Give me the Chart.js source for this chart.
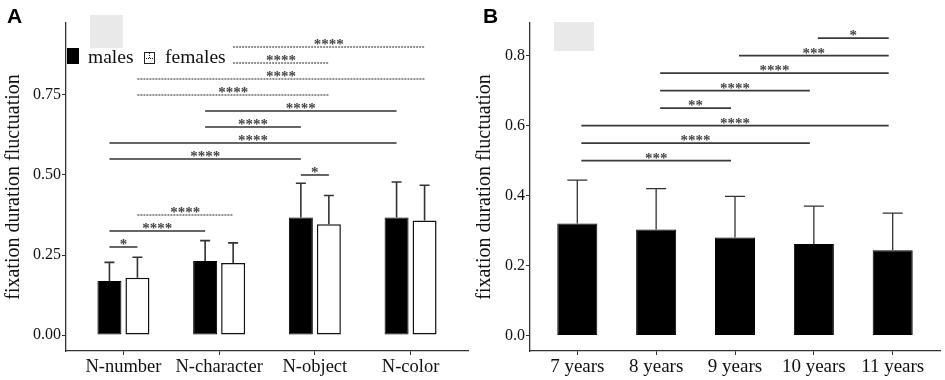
<!DOCTYPE html>
<html>
<head>
<meta charset="utf-8">
<script src="https://cdn.jsdelivr.net/npm/chart.js@4.4.0/dist/chart.umd.min.js"></script>
<style>
    html, body { margin: 0; padding: 0; background: #fff; }
    #wrap { position: relative; width: 945px; height: 380px; }
    #wrapA { position: absolute; left: 0; top: 0; width: 470px; height: 380px; }
    #wrapB { position: absolute; left: 470px; top: 0; width: 475px; height: 380px; }
</style>
</head>
<body>
<div id="wrap">
    <div id="wrapA"><canvas id="chartA" width="470" height="380"></canvas></div>
    <div id="wrapB"><canvas id="chartB" width="475" height="380"></canvas></div>
</div>
<script>
// panel A: task x gender
const tasks = ['N-number', 'N-character', 'N-object', 'N-color'];
const malesMean = [0.169, 0.231, 0.367, 0.367];
const malesSD = [0.058, 0.064, 0.107, 0.111];
const femalesMean = [0.179, 0.225, 0.346, 0.358];
const femalesSD = [0.064, 0.063, 0.090, 0.110];
const yTicksA = [0, 0.25, 0.5, 0.75];

// comparisons in A, endpoints are [dataset, task]
const sigFromA = [[0, 0], [0, 0], [1, 0], [0, 2], [0, 0], [0, 0], [0, 1], [0, 1], [1, 0], [1, 0], [1, 1], [1, 1]];
const sigToA = [[1, 0], [0, 1], [1, 1], [1, 2], [0, 2], [0, 3], [0, 2], [0, 3], [1, 2], [1, 3], [1, 2], [1, 3]];
const sigLevelA = [0.275, 0.325, 0.375, 0.5, 0.55, 0.6, 0.65, 0.7, 0.75, 0.8, 0.85, 0.9];
const sigLabelA = ['*', '****', '****', '*', '****', '****', '****', '****', '****', '****', '****', '****'];

// panel B: age groups
const ages = ['7 years', '8 years', '9 years', '10 years', '11 years'];
const ageMean = [0.320, 0.303, 0.280, 0.262, 0.244];
const ageSD = [0.124, 0.117, 0.118, 0.108, 0.106];
const yTicksB = [0, 0.2, 0.4, 0.6, 0.8];

const sigFromB = [0, 0, 0, 1, 1, 1, 2, 3];
const sigToB = [2, 3, 4, 2, 3, 4, 4, 4];
const sigLevelB = [0.5, 0.55, 0.6, 0.65, 0.7, 0.75, 0.8, 0.85];
const sigLabelB = ['***', '****', '****', '**', '****', '****', '***', '*'];

const serif = "'Liberation Serif', 'Times New Roman', serif";
Chart.defaults.font.family = serif;
Chart.defaults.color = '#111';

function overlayPlugin(opts) {
    return {
        id: 'overlay',
        afterDatasetsDraw(chart) {
            const ctx = chart.ctx;
            const ys = chart.scales.y;
            ctx.save();

            // error bars (upper half only)
            opts.errors.forEach((sd, di) => {
                const meta = chart.getDatasetMeta(di);
                const ds = chart.data.datasets[di];
                meta.data.forEach((bar, i) => {
                    const y0 = ys.getPixelForValue(ds.data[i].y);
                    const y1 = ys.getPixelForValue(ds.data[i].y + sd[i]);
                    ctx.strokeStyle = opts.errColor;
                    ctx.lineWidth = opts.errWidth;
                    ctx.beginPath();
                    ctx.moveTo(bar.x, y0);
                    ctx.lineTo(bar.x, y1);
                    ctx.moveTo(bar.x - opts.capHalf, y1);
                    ctx.lineTo(bar.x + opts.capHalf, y1);
                    ctx.stroke();
                });
            });

            // significance lines
            ctx.font = 'bold 15px ' + serif;
            ctx.textAlign = 'center';
            ctx.textBaseline = 'alphabetic';
            opts.brackets.forEach(b => {
                const x1 = chart.getDatasetMeta(b.from[0]).data[b.from[1]].x + opts.inset;
                const x2 = chart.getDatasetMeta(b.to[0]).data[b.to[1]].x - opts.inset;
                const y = ys.getPixelForValue(b.level);
                ctx.setLineDash(b.dashed ? [2, 1] : []);
                ctx.lineWidth = b.dashed ? 1.1 : opts.sigWidth;
                ctx.strokeStyle = b.dashed ? '#222' : opts.sigColor;
                ctx.beginPath();
                ctx.moveTo(x1, y);
                ctx.lineTo(x2, y);
                ctx.stroke();
                ctx.fillStyle = '#444';
                ctx.fillText(b.label, (x1 + x2) / 2, y + 2);
            });
            ctx.restore();
        },
        afterDraw(chart) {
            const ctx = chart.ctx;
            ctx.save();
            ctx.fillStyle = '#e9e9e9';
            ctx.fillRect(opts.box[0], opts.box[1], opts.box[2], opts.box[3]);

            ctx.fillStyle = '#000';
            ctx.font = 'bold 21px "Liberation Sans", Arial, sans-serif';
            ctx.textAlign = 'left';
            ctx.textBaseline = 'alphabetic';
            ctx.fillText(opts.letter, opts.letterX, 23);

            if (opts.legend) {
                ctx.font = '19.5px ' + serif;
                ctx.fillStyle = '#000';
                ctx.fillRect(67, 48, 12, 16);
                ctx.fillStyle = '#111';
                ctx.fillText('males', 88, 63);
                ctx.strokeStyle = '#222';
                ctx.lineWidth = 1;
                ctx.strokeRect(144.5, 52.5, 10, 11);
                ctx.setLineDash([1, 1]);
                ctx.beginPath();
                ctx.moveTo(146, 58.5);
                ctx.lineTo(154, 58.5);
                ctx.moveTo(149.5, 53);
                ctx.lineTo(149.5, 58);
                ctx.stroke();
                ctx.setLineDash([]);
                ctx.fillText('females', 165, 63);
            }
            ctx.restore();
        }
    };
}

function axisX(labels, min, max, fontSize) {
    return {
        type: 'linear',
        min: min,
        max: max,
        offset: false,
        afterBuildTicks: s => { s.ticks = labels.map((l, i) => ({ value: i })); },
        afterFit: s => { s.height = 29; },
        ticks: {
            autoSkip: false,
            maxRotation: 0,
            padding: 1,
            font: { size: fontSize },
            color: '#111',
            callback: v => labels[v]
        },
        grid: { offset: false, drawOnChartArea: false, drawTicks: true, tickLength: 4, tickColor: '#333', tickWidth: 1 },
        border: { display: true, color: '#333', width: 1.3 }
    };
}

function axisY(min, max, tickVals, digits, width, titlePad) {
    return {
        min: min,
        max: max,
        afterBuildTicks: s => { s.ticks = tickVals.map(v => ({ value: v })); },
        afterFit: s => { s.width = width; },
        ticks: {
            padding: 1,
            font: { size: 16 },
            color: '#111',
            callback: v => Number(v).toFixed(digits)
        },
        grid: { drawOnChartArea: false, drawTicks: true, tickLength: 4, tickColor: '#333', tickWidth: 1 },
        border: { display: true, color: '#333', width: 1.3 },
        title: {
            display: true,
            text: 'fixation duration fluctuation',
            font: { size: 20 },
            color: '#111',
            padding: { top: titlePad, bottom: 0 }
        }
    };
}

function buildChartA() {
    const ctx = document.getElementById('chartA').getContext('2d');
    new Chart(ctx, {
        type: 'bar',
        data: {
            datasets: [{
                label: 'males',
                data: malesMean.map((v, i) => ({ x: i, y: v })),
                backgroundColor: '#000',
                borderColor: '#000',
                borderWidth: 1,
                borderSkipped: false
            },
            {
                label: 'females',
                data: femalesMean.map((v, i) => ({ x: i, y: v })),
                backgroundColor: '#fff',
                borderColor: '#111',
                borderWidth: 1.5,
                borderSkipped: false
            }]
        },
        options: {
            responsive: false,
            animation: false,
            devicePixelRatio: 1,
            categoryPercentage: 0.585,
            barPercentage: 0.857,
            layout: { padding: { top: 23, right: 2, left: 0, bottom: 0 } },
            plugins: { legend: { display: false }, tooltip: { enabled: false } },
            scales: {
                x: axisX(tasks, -0.6, 3.6, 18.5),
                y: axisY(-0.05, 0.975, yTicksA, 2, 66, 2)
            }
        },
        plugins: [overlayPlugin({
            errors: [malesSD, femalesSD],
            errColor: '#333',
            errWidth: 1.6,
            capHalf: 5,
            inset: 0,
            sigColor: '#333',
            sigWidth: 1.5,
            brackets: sigLevelA.map((lv, k) => ({
                from: sigFromA[k],
                to: sigToA[k],
                level: lv,
                label: sigLabelA[k],
                dashed: sigFromA[k][0] === 1 && sigToA[k][0] === 1
            })),
            box: [90, 15, 33, 33],
            letter: 'A',
            letterX: 7,
            legend: true
        })]
    });
}

function buildChartB() {
    const ctx = document.getElementById('chartB').getContext('2d');
    new Chart(ctx, {
        type: 'bar',
        data: {
            datasets: [{
                label: 'age',
                data: ageMean.map((v, i) => ({ x: i, y: v })),
                backgroundColor: '#000',
                borderColor: '#000',
                borderWidth: 1,
                borderSkipped: false
            }]
        },
        options: {
            responsive: false,
            animation: false,
            devicePixelRatio: 1,
            categoryPercentage: 1,
            barPercentage: 0.508,
            layout: { padding: { top: 23, right: 5, left: 0, bottom: 0 } },
            plugins: { legend: { display: false }, tooltip: { enabled: false } },
            scales: {
                x: axisX(ages, -0.6, 4.6, 19),
                y: axisY(-0.044, 0.893, yTicksB, 1, 60, 3)
            }
        },
        plugins: [overlayPlugin({
            errors: [ageSD],
            errColor: '#333',
            errWidth: 1.3,
            capHalf: 10,
            inset: 4,
            sigColor: '#3a3a3a',
            sigWidth: 1.7,
            brackets: sigLevelB.map((lv, k) => ({
                from: [0, sigFromB[k]],
                to: [0, sigToB[k]],
                level: lv,
                label: sigLabelB[k],
                dashed: false
            })),
            box: [84, 22, 40, 29],
            letter: 'B',
            letterX: 13,
            legend: false
        })]
    });
}

window.addEventListener('load', () => {
    buildChartA();
    buildChartB();
});
</script>
</body>
</html>
